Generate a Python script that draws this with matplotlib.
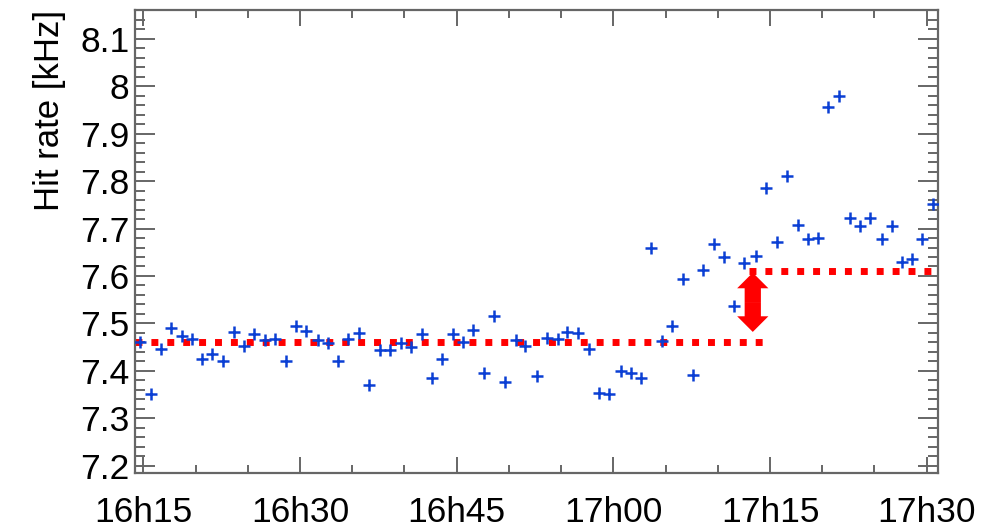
import matplotlib
matplotlib.use('Agg')
import matplotlib.pyplot as plt
from matplotlib.ticker import MultipleLocator, FuncFormatter
from matplotlib.patches import FancyArrowPatch

plt.rcParams['font.family'] = ['Liberation Sans', 'DejaVu Sans']

# time of each measurement, minutes after 16h00
minutes = [14.68, 15.71, 16.67, 17.62, 18.68, 19.69, 20.65, 21.61, 22.60, 23.68,
           24.64, 25.63, 26.65, 27.61, 28.63, 29.62, 30.58, 31.75, 32.71, 33.61,
           34.63, 35.65, 36.64, 37.66, 38.61, 39.67, 40.63, 41.65, 42.61, 43.57,
           44.62, 45.64, 46.59, 47.62, 48.60, 49.63, 50.65, 51.54, 52.66, 53.62,
           54.67, 55.59, 56.65, 57.67, 58.60, 59.56, 60.71, 61.66, 62.62, 63.61,
           64.63, 65.65, 66.64, 67.60, 68.61, 69.64, 70.62, 71.58, 72.54, 73.63,
           74.62, 75.64, 76.60, 77.65, 78.61, 79.63, 80.58, 81.63, 82.66, 83.61,
           84.57, 85.69, 86.65, 87.61, 88.57, 89.58, 90.58]

# hit rate [kHz]
hit_rate = [7.460, 7.351, 7.447, 7.491, 7.473, 7.466, 7.425, 7.436, 7.420, 7.482,
            7.453, 7.478, 7.464, 7.466, 7.420, 7.494, 7.484, 7.464, 7.458, 7.420,
            7.468, 7.479, 7.371, 7.443, 7.443, 7.458, 7.450, 7.477, 7.385, 7.425,
            7.477, 7.460, 7.487, 7.395, 7.515, 7.376, 7.464, 7.452, 7.388, 7.470,
            7.468, 7.482, 7.479, 7.445, 7.353, 7.351, 7.399, 7.395, 7.385, 7.658,
            7.463, 7.495, 7.594, 7.392, 7.612, 7.667, 7.639, 7.536, 7.627, 7.642,
            7.786, 7.672, 7.811, 7.707, 7.679, 7.681, 7.957, 7.980, 7.723, 7.705,
            7.723, 7.679, 7.705, 7.630, 7.635, 7.677, 7.751]

# mean levels before / after the step
level_before = 7.46
level_after = 7.61
before_range = [14.2, 74.45]
after_range = [73.02, 91.1]
step_time = 73.35

xmin, xmax = 14.2, 91.05
ymin, ymax = 7.185, 8.161

fig = plt.figure(figsize=(9.81, 5.30), dpi=100)
ax = fig.add_axes([0.1376, 0.1081, 0.8182, 0.873])

ax.plot(minutes, hit_rate, linestyle='none', marker='+', markersize=8.5,
        markeredgewidth=1.8, color='#0b3fd4', zorder=3)

red = '#ff0000'
ax.plot(before_range, [level_before, level_before], color=red, linewidth=5.0,
        linestyle=(0, (1, 1.29)), dash_capstyle='butt', zorder=2)
ax.plot(after_range, [level_after, level_after], color=red, linewidth=5.0,
        linestyle=(0, (1, 1.29)), dash_capstyle='butt', zorder=2)

# double arrow showing the step
mid = (level_before + 0.02 + level_after) / 2
for tip in [level_after - 0.003, level_before + 0.022]:
    arr = FancyArrowPatch((step_time, mid), (step_time, tip),
                          arrowstyle='simple,head_length=0.5,head_width=1.0,tail_width=0.52',
                          mutation_scale=22.5, color=red, linewidth=0,
                          shrinkA=0, shrinkB=0, zorder=4)
    ax.add_patch(arr)

ax.set_xlim(xmin, xmax)
ax.set_ylim(ymin, ymax)

ax.xaxis.set_major_locator(MultipleLocator(15))
ax.xaxis.set_minor_locator(MultipleLocator(5))
ax.xaxis.set_major_formatter(FuncFormatter(
    lambda m, pos: '%dh%02d' % (16 + int(round(m)) // 60, int(round(m)) % 60)))
ax.yaxis.set_major_locator(MultipleLocator(0.1))
ax.yaxis.set_minor_locator(MultipleLocator(0.02))
ax.yaxis.set_major_formatter(FuncFormatter(lambda v, pos: '%g' % round(v, 2)))

frame_col = '#666666'
for sp in ax.spines.values():
    sp.set_color(frame_col)
    sp.set_linewidth(1.6)

ax.tick_params(axis='both', which='both', direction='in', colors=frame_col,
               labelcolor='black', width=1.4, top=True, right=True)
ax.tick_params(axis='y', which='major', length=14.4, pad=4, labelsize=25.5)
ax.tick_params(axis='y', which='minor', length=7.2)
ax.tick_params(axis='x', which='major', length=11.5, pad=17, labelsize=25.5)
ax.tick_params(axis='x', which='minor', length=5.8)

ax.set_ylabel('Hit rate [kHz]', fontsize=25, loc='top', labelpad=10)

fig.savefig('out.png', dpi=100)
